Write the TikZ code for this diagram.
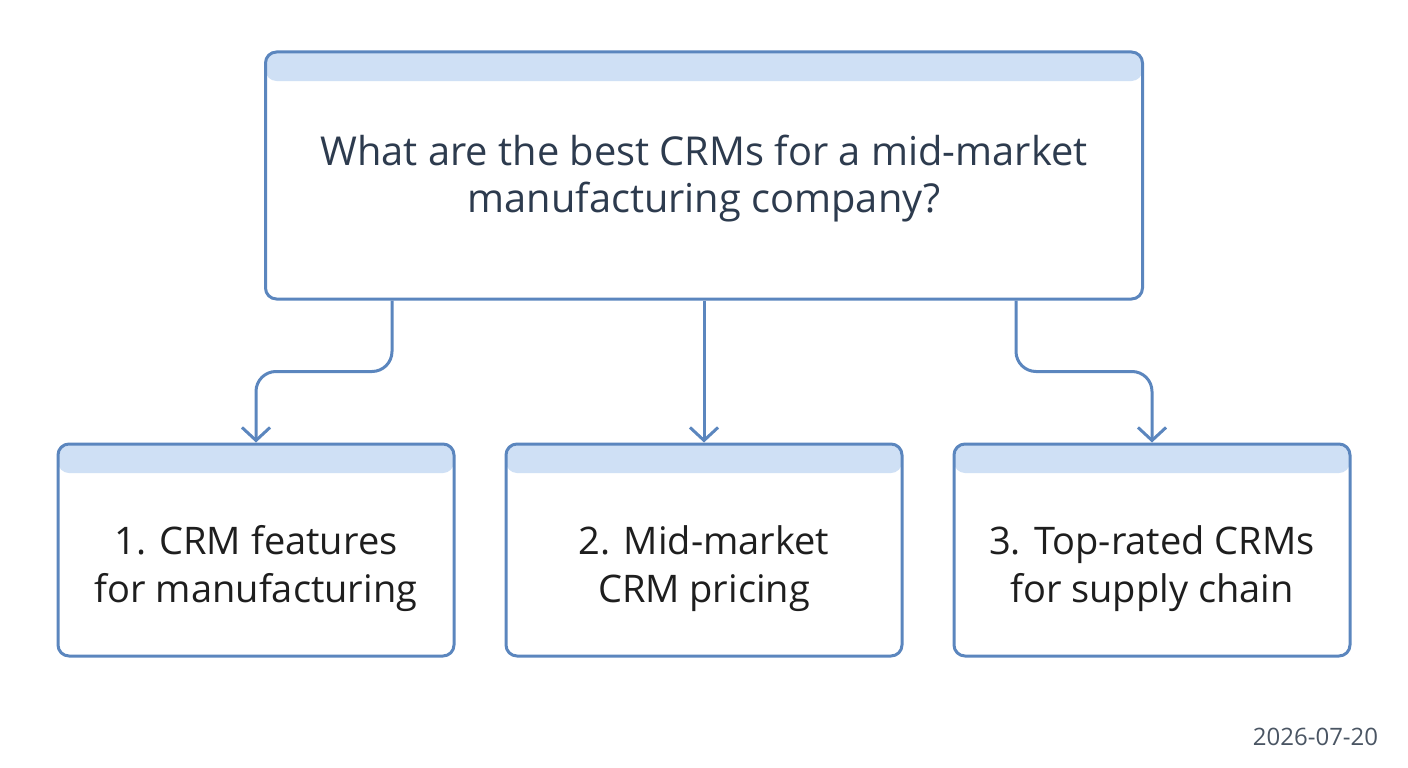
\documentclass[tikz,border=0pt]{standalone}
\usepackage{fontspec}
\setmainfont{Open Sans}
\usetikzlibrary{calc,positioning,arrows.meta}
\definecolor{edgeblue}{HTML}{5B86BE}
\definecolor{hdrblue}{HTML}{CFE0F5}
\definecolor{qtext}{HTML}{2D3B4E}
\definecolor{ftext}{HTML}{1E1E1E}
\definecolor{datetext}{HTML}{4A5563}

\begin{document}
\begin{tikzpicture}[x=1pt, y=-1pt,
  card/.style={draw=edgeblue, line width=3pt, fill=white, rounded corners=11pt,
    inner sep=0pt,
    path picture={\fill[hdrblue] (path picture bounding box.north west) rectangle ([yshift=-29pt]path picture bounding box.north east);}},
  qcard/.style={card, minimum width=877pt, minimum height=247pt},
  fcard/.style={card, minimum width=396pt, minimum height=212pt},
  qlbl/.style={text=qtext, align=center, font=\fontsize{39.8}{47}\selectfont},
  flbl/.style={text=ftext, align=center, font=\fontsize{38}{48}\selectfont},
  conn/.style={draw=edgeblue, line width=3pt, rounded corners=20pt,
    -{Straight Barb[length=13pt,width=28pt,line width=3pt]}}]
\useasboundingbox (0,0) rectangle (1408,768);

\node[qcard] (question) at (704,175.5) {};
\node[qlbl] (qtxt) at ([yshift=-3pt]question.center) {What are the best CRMs for a mid-market\\manufacturing company?};

\node[fcard] (f1) at (256,550) {};
\node[fcard] (f2) at (704,550) {};
\node[fcard] (f3) at (1152,550) {};
\node[flbl] (f1txt) at ([yshift=-19pt]f1.center) {1. CRM features\\for manufacturing};
\node[flbl] (f2txt) at ([yshift=-19pt]f2.center) {2. Mid-market\\CRM pricing};
\node[flbl] (f3txt) at ([yshift=-19pt]f3.center) {3. Top-rated CRMs\\for supply chain};

% branch points under the question box
\coordinate (mid) at ($(question.south)!0.5!(f2.north)$);
\coordinate (qL) at ([xshift=-312pt]question.south);
\coordinate (qR) at ([xshift=312pt]question.south);
\draw[conn] (qL) -- (qL |- mid) -| (f1.north);
\draw[conn] (question.south) -- (f2.north);
\draw[conn] (qR) -- (qR |- mid) -| (f3.north);

\node[text=datetext, font=\fontsize{24}{28}\selectfont] (date) at (1315.5,737) {2026-07-20};
\end{tikzpicture}
\end{document}
